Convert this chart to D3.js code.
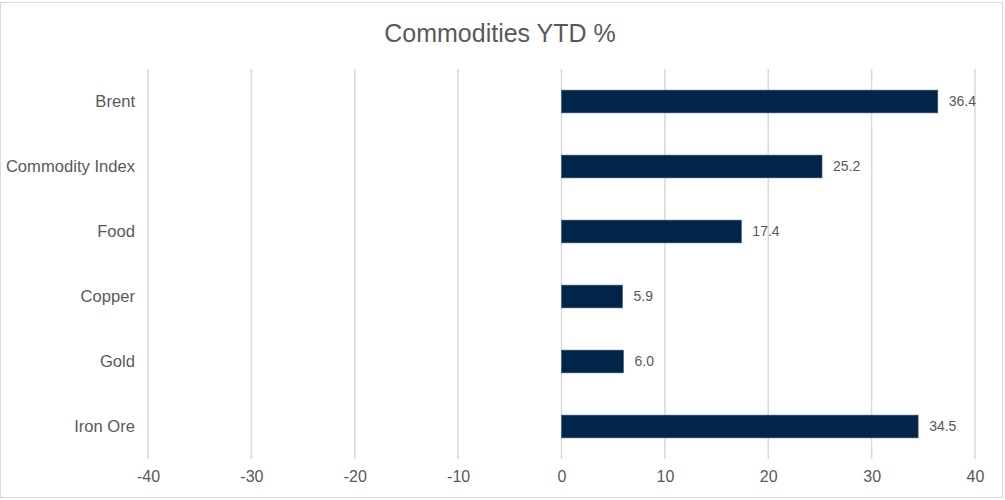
<!DOCTYPE html>
<html>
<head>
<meta charset="utf-8">
<script src="https://cdn.jsdelivr.net/npm/d3@7/dist/d3.min.js"></script>
<style>
  html, body { margin: 0; padding: 0; background: #fff; }
  svg { display: block; font-family: "Liberation Sans", Arial, sans-serif; }
</style>
</head>
<body>
<svg id="chart" width="1005" height="500"></svg>
<script>
// Year-to-date change by commodity (%)
const categories = ["Brent", "Commodity Index", "Food", "Copper", "Gold", "Iron Ore"];
const ytdValues = [36.4, 25.2, 17.4, 5.9, 6.0, 34.5];
const xTicks = [-40, -30, -20, -10, 0, 10, 20, 30, 40];
const chartTitle = "Commodities YTD %";

const svg = d3.select("#chart");
const W = 1005, H = 500;

// outer frame
svg.append("rect")
  .attr("x", 0.5).attr("y", 2.5)
  .attr("width", W - 3).attr("height", H - 5)
  .attr("fill", "#fff")
  .attr("stroke", "#d9d9d9")
  .attr("stroke-width", 1);

const x = d3.scaleLinear().domain([-40, 40]).range([148, 975]);
const y = d3.scaleBand().domain(categories).range([69, 459])
  .paddingInner(0.65).paddingOuter(0.325);

// title
svg.append("text")
  .attr("x", 500).attr("y", 42)
  .attr("text-anchor", "middle")
  .attr("font-size", 25)
  .attr("fill", "#595959")
  .text(chartTitle);

// vertical gridlines
svg.append("g").selectAll("line")
  .data(xTicks)
  .join("line")
  .attr("x1", d => x(d)).attr("x2", d => x(d))
  .attr("y1", 69).attr("y2", 459)
  .attr("stroke", "#d9d9d9")
  .attr("stroke-width", 1.5);

// x axis labels
const xAxis = d3.axisBottom(x).tickValues(xTicks).tickSize(0).tickPadding(0)
  .tickFormat(d3.format("d"));
const gx = svg.append("g").attr("transform", "translate(0,471)").call(xAxis);
gx.select(".domain").remove();
gx.selectAll("text")
  .attr("font-size", 16)
  .attr("fill", "#595959")
  .attr("font-family", "Liberation Sans, Arial, sans-serif")
  .text(d => d < 0 ? "-" + Math.abs(d) : d);

// category labels
const yAxis = d3.axisLeft(y).tickSize(0).tickPadding(13);
const gy = svg.append("g").attr("transform", `translate(${x(-40)},0)`).call(yAxis);
gy.select(".domain").remove();
gy.selectAll("text")
  .attr("font-size", 16.6)
  .attr("fill", "#595959")
  .attr("font-family", "Liberation Sans, Arial, sans-serif");

// bars
svg.append("g").selectAll("rect")
  .data(categories)
  .join("rect")
  .attr("x", (d, i) => Math.min(x(0), x(ytdValues[i])))
  .attr("y", d => y(d))
  .attr("width", (d, i) => Math.abs(x(ytdValues[i]) - x(0)))
  .attr("height", y.bandwidth())
  .attr("fill", "#002549")
  .attr("stroke", "#3a5878")
  .attr("stroke-width", 0.6);

// value labels
svg.append("g").selectAll("text")
  .data(categories)
  .join("text")
  .attr("x", (d, i) => x(ytdValues[i]) + 11)
  .attr("y", d => y(d) + y.bandwidth() / 2)
  .attr("dy", "0.35em")
  .attr("font-size", 14)
  .attr("fill", "#595959")
  .text((d, i) => d3.format(".1f")(ytdValues[i]));
</script>
</body>
</html>
